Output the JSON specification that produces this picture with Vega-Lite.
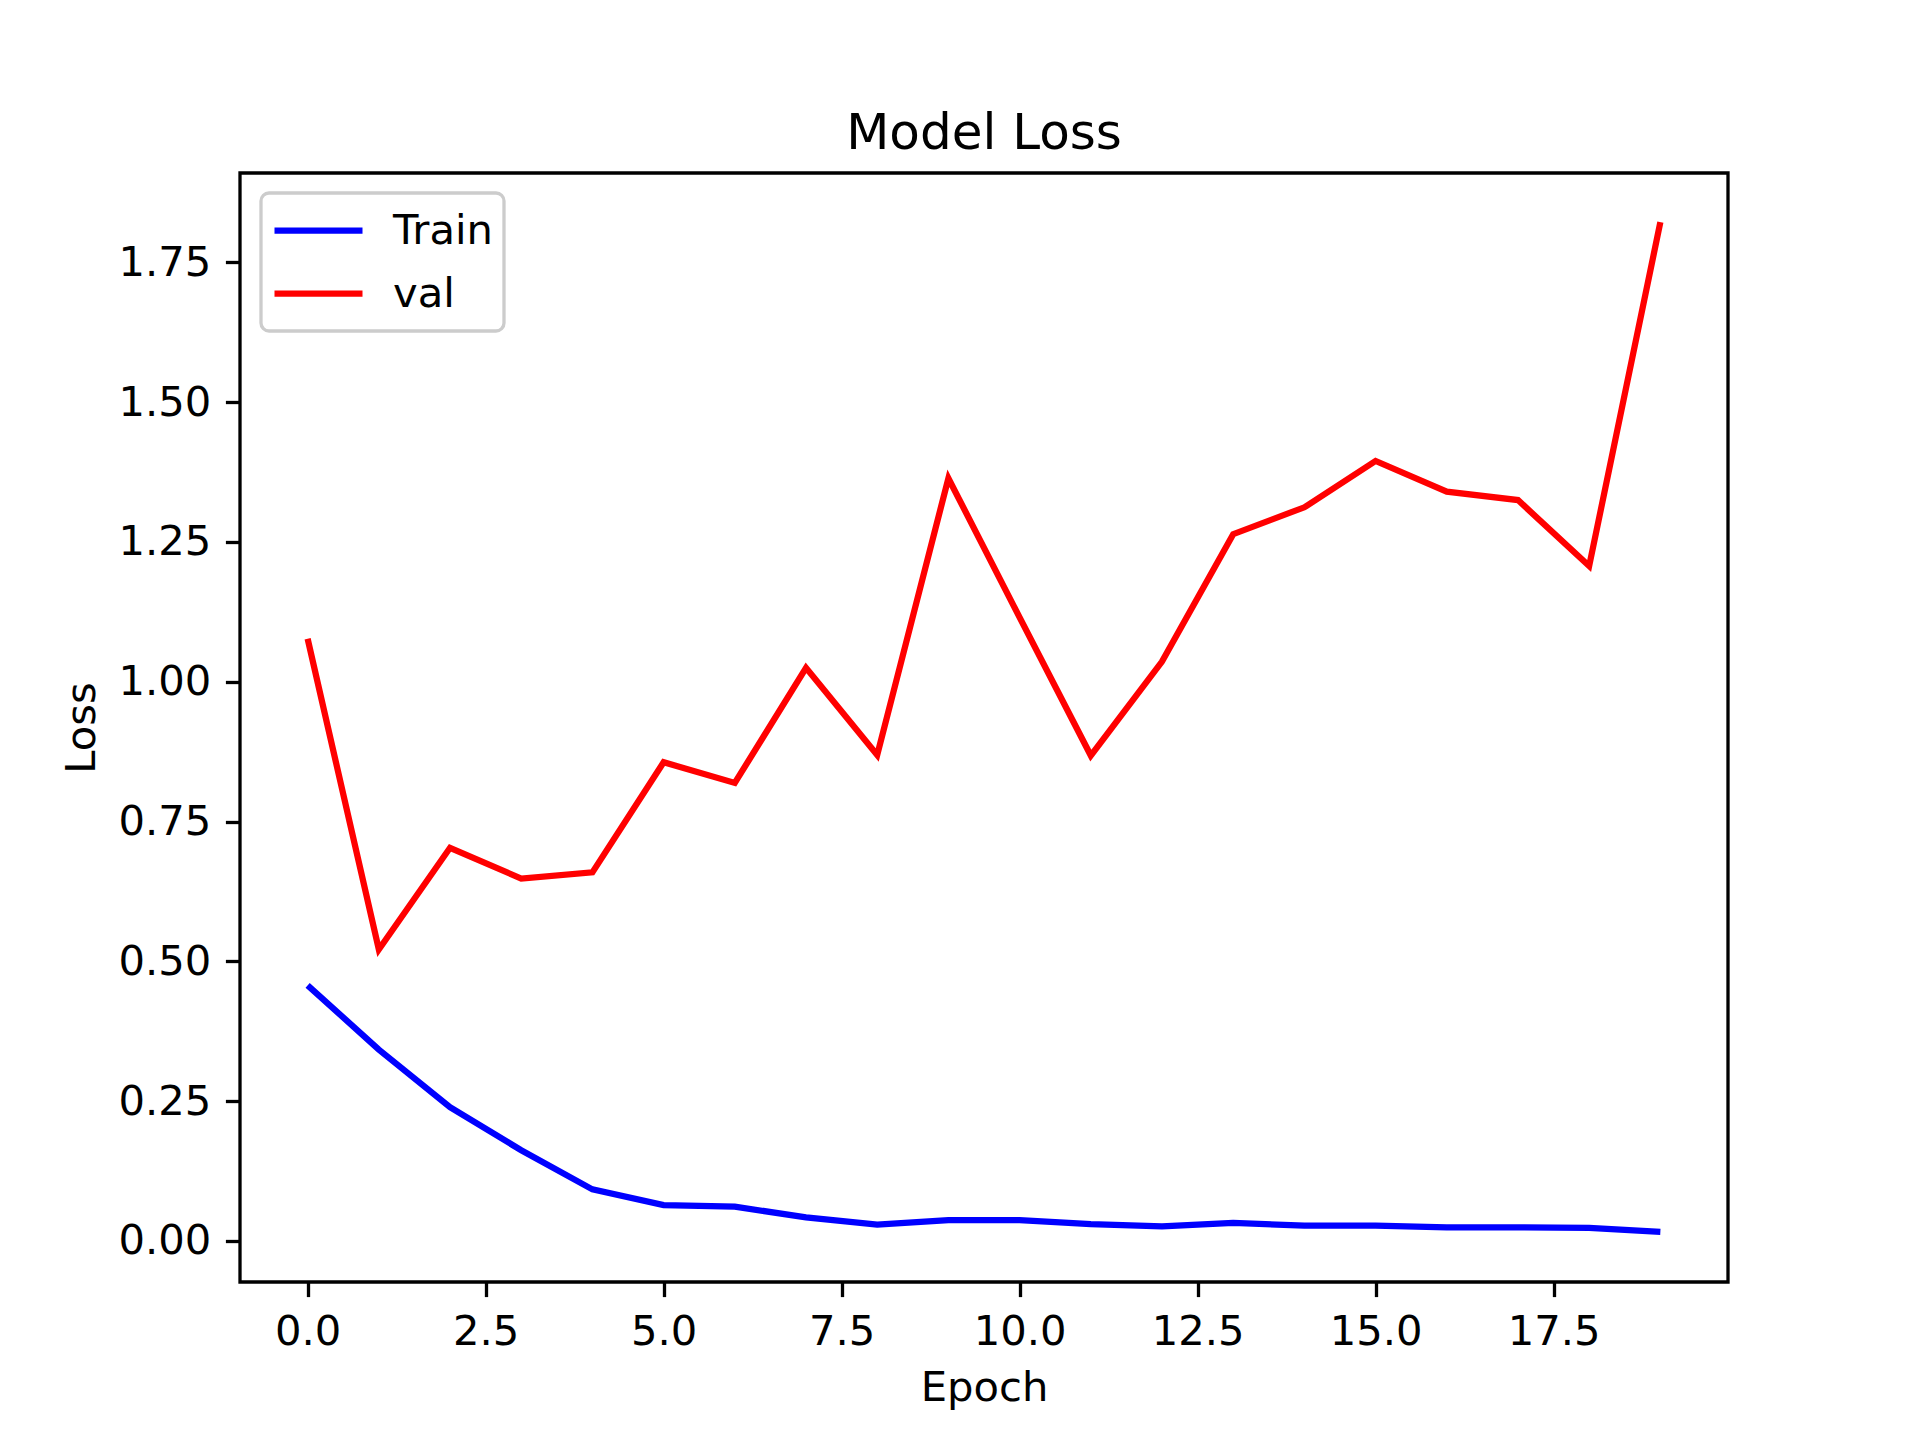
{
  "$schema": "https://vega.github.io/schema/vega-lite/v6.json",
  "autosize": {"type": "none"},
  "width": 1488,
  "height": 1109,
  "padding": {"left": 240, "top": 173, "right": 192, "bottom": 158},
  "background": "white",
  "config": {
    "font": "DejaVu Sans",
    "view": {"stroke": "black", "strokeWidth": 3.3},
    "axis": {"grid": false, "domain": false, "tickColor": "black", "tickWidth": 3.3, "tickSize": 14.6, "labelPadding": 14.6, "labelFontSize": 41.7, "labelColor": "black", "labelFont": "DejaVu Sans", "titleFont": "DejaVu Sans", "titleFontSize": 41.7, "titleFontWeight": "normal", "titleColor": "black"},
    "legend": {"strokeColor": "#cccccc", "fillColor": "white", "cornerRadius": 8, "padding": 10}
  },
  "title": {"text": "Model Loss", "fontSize": 50, "fontWeight": "normal", "font": "DejaVu Sans", "color": "black", "offset": 14, "anchor": "middle"},
  "data": {"values": [
    {"epoch": 0, "loss": 0.457, "series": "Train"},
    {"epoch": 1, "loss": 0.342, "series": "Train"},
    {"epoch": 2, "loss": 0.239, "series": "Train"},
    {"epoch": 3, "loss": 0.162, "series": "Train"},
    {"epoch": 4, "loss": 0.092, "series": "Train"},
    {"epoch": 5, "loss": 0.064, "series": "Train"},
    {"epoch": 6, "loss": 0.061, "series": "Train"},
    {"epoch": 7, "loss": 0.042, "series": "Train"},
    {"epoch": 8, "loss": 0.029, "series": "Train"},
    {"epoch": 9, "loss": 0.037, "series": "Train"},
    {"epoch": 10, "loss": 0.037, "series": "Train"},
    {"epoch": 11, "loss": 0.030, "series": "Train"},
    {"epoch": 12, "loss": 0.026, "series": "Train"},
    {"epoch": 13, "loss": 0.032, "series": "Train"},
    {"epoch": 14, "loss": 0.027, "series": "Train"},
    {"epoch": 15, "loss": 0.027, "series": "Train"},
    {"epoch": 16, "loss": 0.024, "series": "Train"},
    {"epoch": 17, "loss": 0.024, "series": "Train"},
    {"epoch": 18, "loss": 0.023, "series": "Train"},
    {"epoch": 19, "loss": 0.016, "series": "Train"},
    {"epoch": 0, "loss": 1.077, "series": "val"},
    {"epoch": 1, "loss": 0.521, "series": "val"},
    {"epoch": 2, "loss": 0.703, "series": "val"},
    {"epoch": 3, "loss": 0.648, "series": "val"},
    {"epoch": 4, "loss": 0.659, "series": "val"},
    {"epoch": 5, "loss": 0.856, "series": "val"},
    {"epoch": 6, "loss": 0.819, "series": "val"},
    {"epoch": 7, "loss": 1.025, "series": "val"},
    {"epoch": 8, "loss": 0.869, "series": "val"},
    {"epoch": 9, "loss": 1.364, "series": "val"},
    {"epoch": 10, "loss": 1.115, "series": "val"},
    {"epoch": 11, "loss": 0.868, "series": "val"},
    {"epoch": 12, "loss": 1.036, "series": "val"},
    {"epoch": 13, "loss": 1.264, "series": "val"},
    {"epoch": 14, "loss": 1.312, "series": "val"},
    {"epoch": 15, "loss": 1.395, "series": "val"},
    {"epoch": 16, "loss": 1.340, "series": "val"},
    {"epoch": 17, "loss": 1.325, "series": "val"},
    {"epoch": 18, "loss": 1.207, "series": "val"},
    {"epoch": 19, "loss": 1.822, "series": "val"}
  ]},
  "mark": {"type": "line", "strokeWidth": 6.25, "strokeJoin": "miter", "strokeCap": "butt"},
  "encoding": {
    "x": {"field": "epoch", "type": "quantitative", "title": "Epoch",
      "scale": {"domain": [-0.95, 19.95], "nice": false, "zero": false},
      "axis": {"values": [0, 2.5, 5, 7.5, 10, 12.5, 15, 17.5], "format": ".1f", "titlePadding": 15}},
    "y": {"field": "loss", "type": "quantitative", "title": "Loss",
      "scale": {"domain": [-0.0737, 1.910], "nice": false, "zero": false},
      "axis": {"values": [0, 0.25, 0.5, 0.75, 1, 1.25, 1.5, 1.75], "format": ".2f", "titlePadding": 14}},
    "color": {"field": "series", "type": "nominal",
      "scale": {"domain": ["Train", "val"], "range": ["#0000ff", "#ff0000"]},
      "legend": {"title": null, "orient": "none", "legendX": 21, "legendY": 20,
        "symbolType": "stroke", "symbolSize": 7744, "symbolStrokeWidth": 6.25,
        "labelFontSize": 41.7, "labelFont": "DejaVu Sans", "labelColor": "black", "labelOffset": 27,
        "clipHeight": 55, "rowPadding": 8,
        "encode": {"legend": {"update": {"strokeWidth": {"value": 3.3}}}}}}
  }
}
